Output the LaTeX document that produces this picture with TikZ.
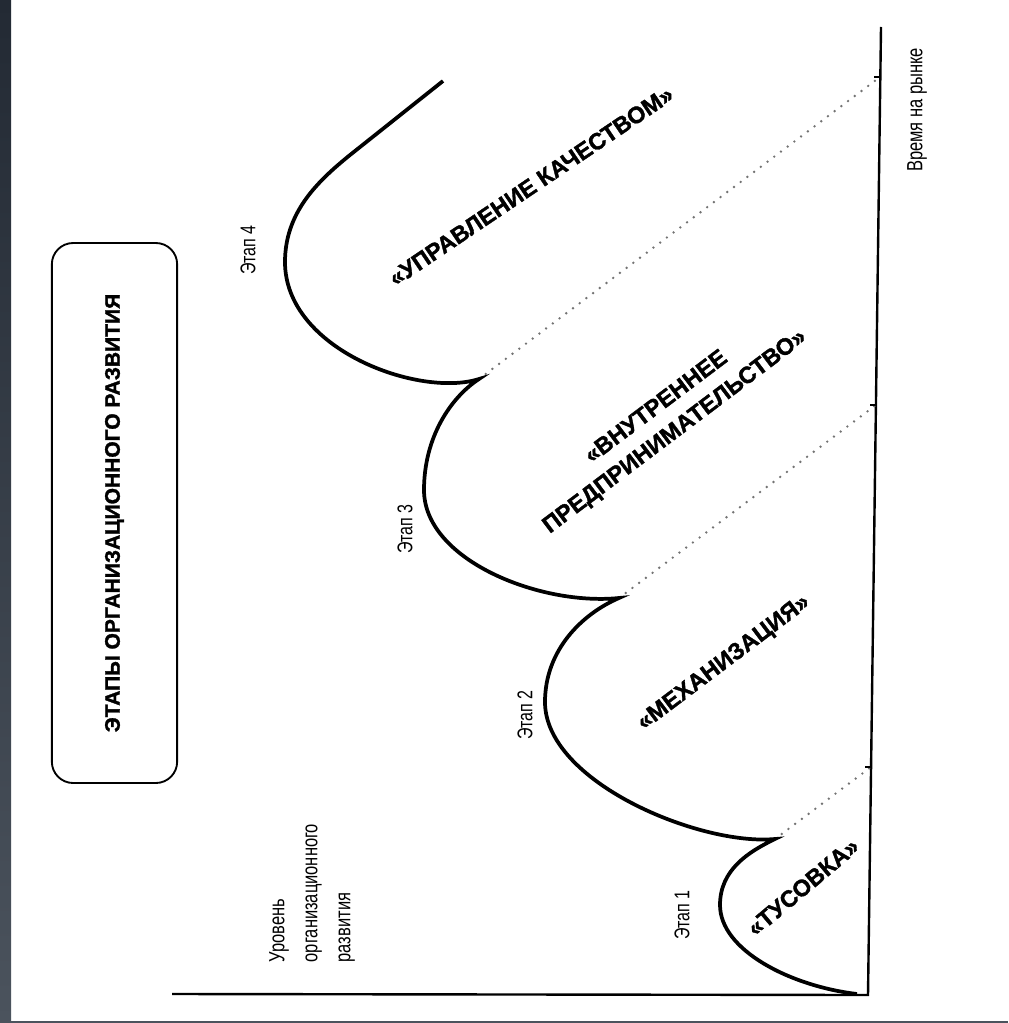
\documentclass[tikz,border=0pt]{standalone}
\usepackage{fontspec}
\setmainfont{Liberation Sans}
\newfontfamily\narrowfont[FakeStretch=0.75]{Liberation Sans}
\newfontfamily\heavyfont{Liberation Sans Bold}[FakeBold=1.5]
\definecolor{frametop}{RGB}{35,42,52}
\definecolor{framebottom}{RGB}{75,83,93}
\begin{document}
\begin{tikzpicture}[x=0.75pt,y=-0.75pt,
  curve/.style={line width=2.8pt, line join=miter, miter limit=20},
  axis/.style={line width=1.8pt},
  guide/.style={line width=2pt, color=black!55, dash pattern=on 0pt off 6.3pt, line cap=round},
  tick/.style={line width=1pt},
  titlebox/.style={draw, line width=1.4pt, rounded corners=16pt, rotate=90,
    minimum width=405pt, minimum height=94pt, inner sep=0pt,
    font=\heavyfont\fontsize{15.75}{19}\selectfont},
  axislabel/.style={rotate=90, inner sep=0pt, font=\narrowfont\fontsize{16.5}{24.75}\selectfont},
  stagelabel/.style={rotate=90, inner sep=0pt, font=\narrowfont\fontsize{16}{19}\selectfont},
  phase/.style={inner sep=0pt, font=\heavyfont\fontsize{17.5}{23}\selectfont}
]
\useasboundingbox (0,0) rectangle (1008,1023);
\fill[white] (0,0) rectangle (1008,1023);
% dark frame on the left and bottom edges
\shade[top color=frametop, bottom color=framebottom] (0,0) rectangle (11,1023);
\fill[framebottom] (0,1021) rectangle (1008,1023);

% axes
\coordinate (O) at (868,995);
\coordinate (Xend) at (172,994);
\coordinate (Ytop) at (881,27);
\draw[axis] (Xend) -- (O) -- (Ytop);

% stage boundaries on the curve and on the time axis
\coordinate (S)  at (857,994);
\coordinate (J1) at (775,839);
\coordinate (J2) at (619,598);
\coordinate (J3) at (479,379);
\coordinate (E)  at (443,81);
\coordinate (T1) at (871,767);
\coordinate (T2) at (876,405);
\coordinate (T3) at (880,77);

\draw[guide] (J1) -- (T1);
\draw[guide] (J2) -- (T2);
\draw[guide] (J3) -- (T3);
\foreach \t in {T1,T2,T3} \draw[tick] (\t) -- ++(-6,0);

% development curve
\draw[curve] (S) .. controls (790,986) and (720,950) .. (720,905)
  .. controls (720,870) and (748,852) .. (J1)
  .. controls (700,846) and (545,782) .. (545,702)
  .. controls (545,650) and (582,614) .. (J2)
  .. controls (540,606) and (424,560) .. (424,490)
  .. controls (424,438) and (450,398) .. (J3)
  .. controls (420,398) and (285,350) .. (285,262)
  .. controls (285,212) and (318,181) .. (350,155)
  -- (E);

% title
\node[titlebox] (title) at (114.5,513) {ЭТАПЫ ОРГАНИЗАЦИОННОГО РАЗВИТИЯ};

% axis labels
\node[axislabel] (time) at (917,110) {Время на рынке};
\node[axislabel, align=left] (level) at (312,893) {Уровень\\организационного\\развития};

% stage numbers
\node[stagelabel] (st1) at (682,915) {Этап 1};
\node[stagelabel] (st2) at (525,715) {Этап 2};
\node[stagelabel] (st3) at (405,529) {Этап 3};
\node[stagelabel] (st4) at (248,250) {Этап 4};

% stage names
\node[phase, rotate=40] (p1) at (803,887) {«ТУСОВКА»};
\node[phase, rotate=37] (p2) at (724,663) {«МЕХАНИЗАЦИЯ»};
\node[phase, rotate=37, align=center] (p3) at (666,420) {«ВНУТРЕННЕЕ\\ПРЕДПРИНИМАТЕЛЬСТВО»};
\node[phase, rotate=34] (p4) at (531,186) {«УПРАВЛЕНИЕ КАЧЕСТВОМ»};
\end{tikzpicture}
\end{document}
